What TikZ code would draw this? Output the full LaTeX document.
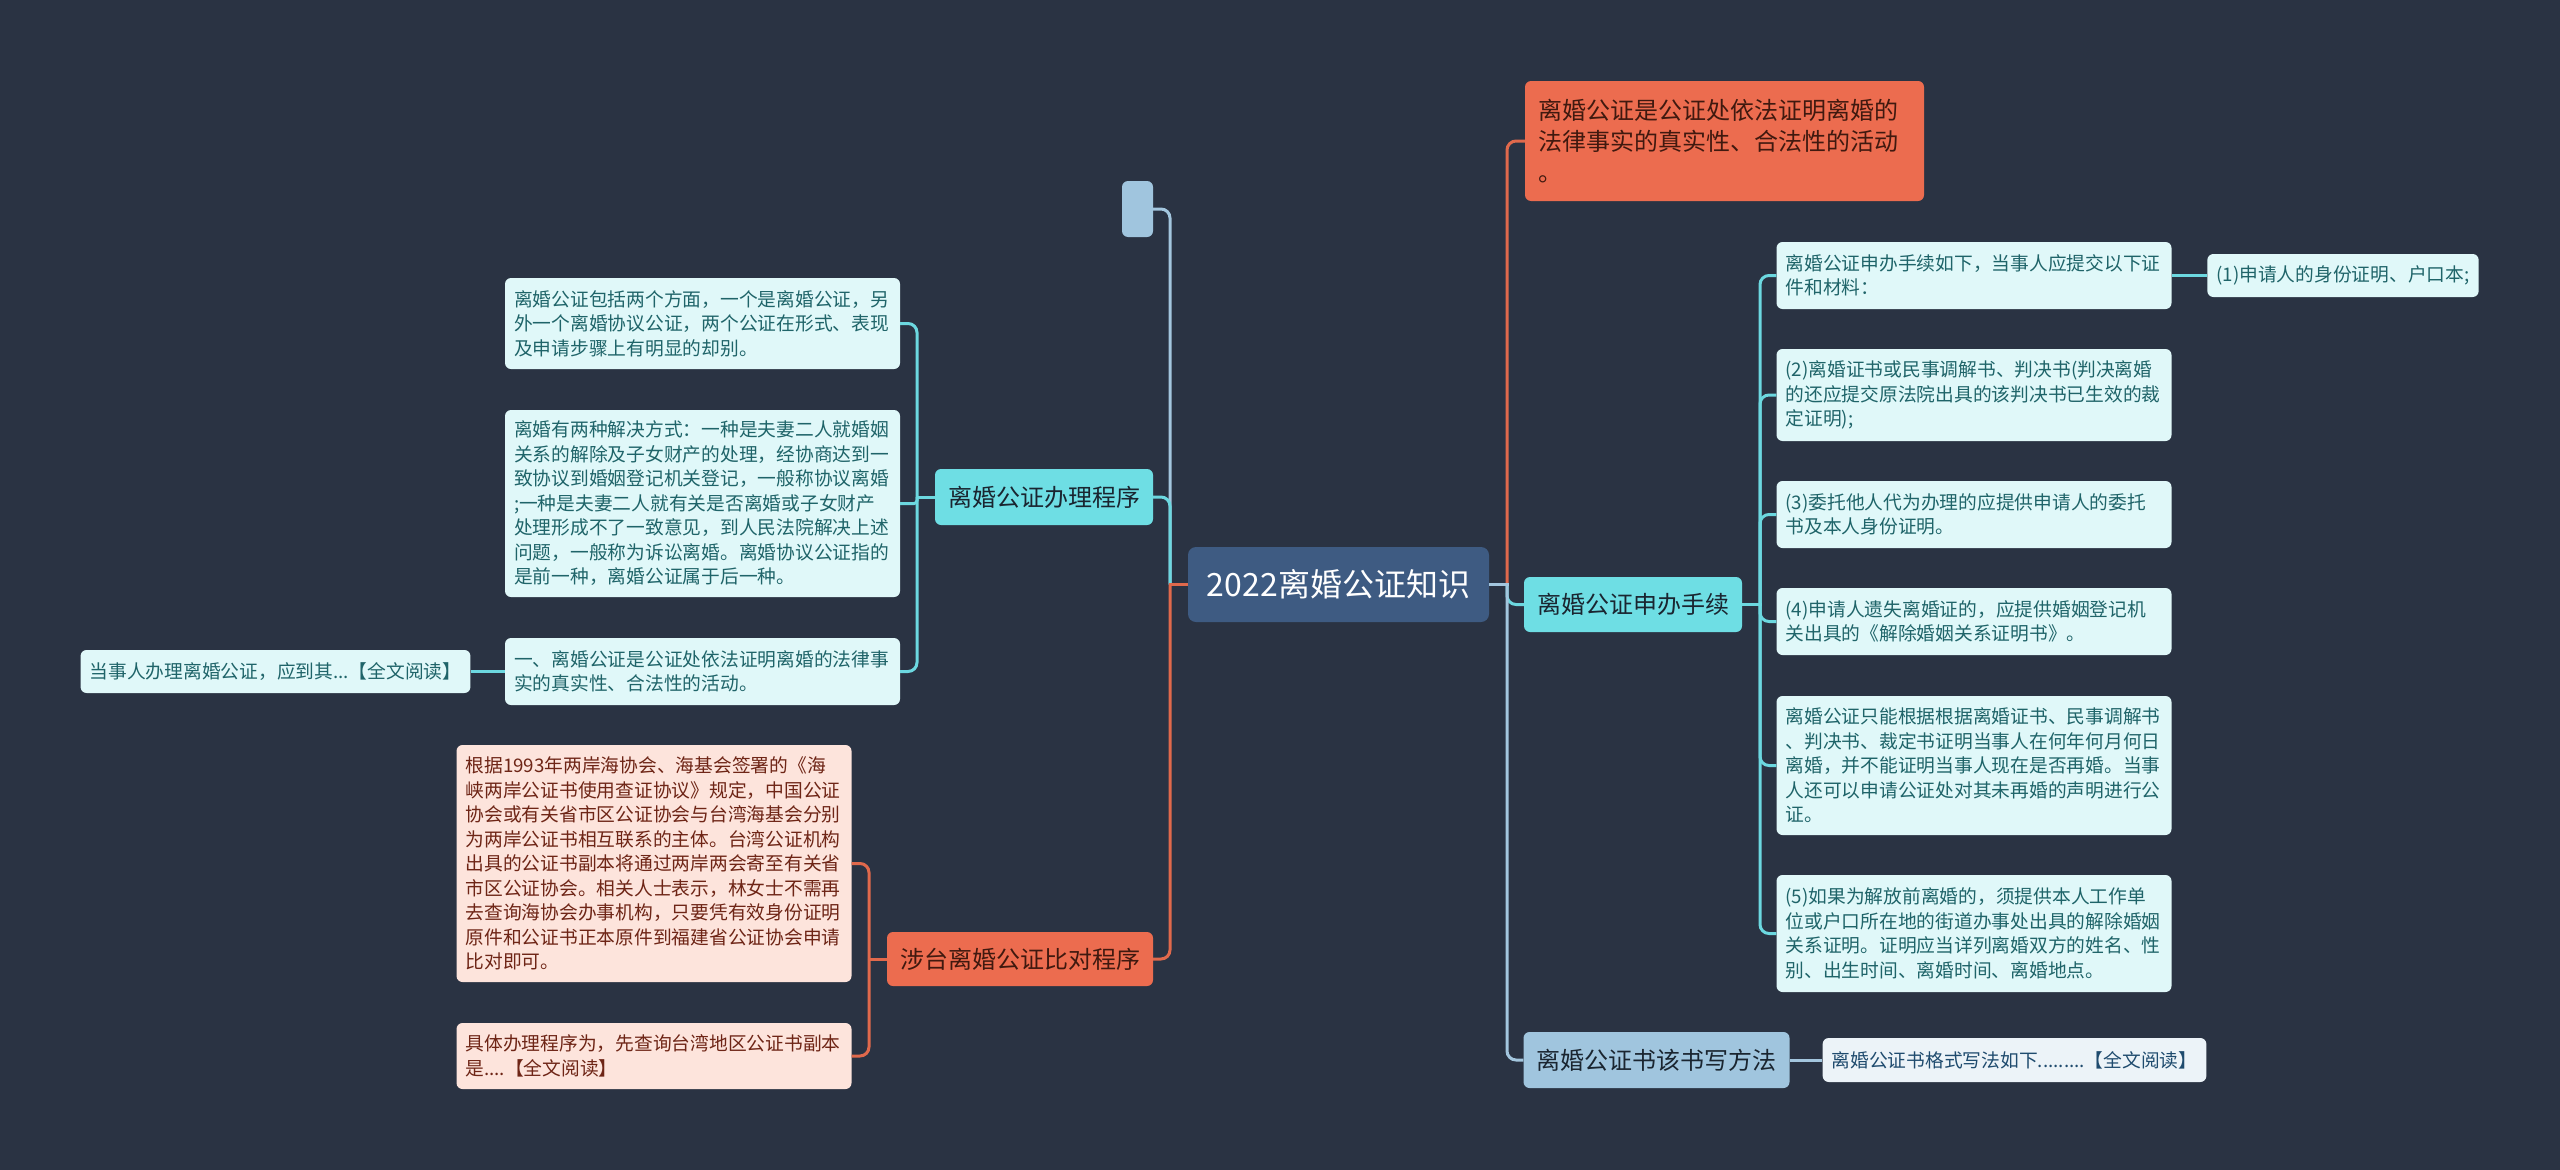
\documentclass[tikz,border=0pt]{standalone}
\usepackage{fontspec}
\newfontfamily\cjk{Noto Sans CJK SC}
\definecolor{bgnavy}{HTML}{2A3343}
\definecolor{rootblue}{HTML}{3E5B82}
\definecolor{topictext}{HTML}{1A2530}
\definecolor{cyantopic}{HTML}{6EDEE4}
\definecolor{cyanleaf}{HTML}{E0F8F9}
\definecolor{cyantext}{HTML}{1F6469}
\definecolor{cyanline}{HTML}{6CD8E0}
\definecolor{redtopic}{HTML}{EC6C4F}
\definecolor{redtopictext}{HTML}{40190F}
\definecolor{redleaf}{HTML}{FDE4DC}
\definecolor{redtext}{HTML}{6E2516}
\definecolor{redline}{HTML}{E0694C}
\definecolor{bluetopic}{HTML}{A0C5DE}
\definecolor{blueleaf}{HTML}{ECF3F8}
\definecolor{bluetext}{HTML}{1F4B6E}
\definecolor{blueline}{HTML}{A3C6DE}

\begin{document}
\begin{tikzpicture}[x=1pt, y=-1pt,
	every node/.style={inner sep=0pt, rounded corners=6pt},
	topic/.style={font=\cjk\fontsize{24}{31}\selectfont, text=topictext, minimum height=56pt, inner xsep=13pt},
	leaf/.style={font=\cjk\fontsize{18.75}{24.5}\selectfont, text width=377pt, align=left, inner xsep=9pt},
	tip/.style={font=\cjk\fontsize{18.75}{24.5}\selectfont, minimum height=43pt, inner xsep=9pt},
	link/.style={line width=3pt, rounded corners=9pt}]
	\useasboundingbox (0,0) rectangle (2560,1170);
	\fill[bgnavy] (0,0) rectangle (2560,1170);

	% centre
	\node[fill=rootblue, text=white, font=\cjk\fontsize{32}{38}\selectfont, minimum width=301pt, minimum height=75pt, rounded corners=8pt] (root) at (1338.5,584.5) {2022离婚公证知识};

	% left side
	\node[topic, fill=bluetopic, minimum width=31pt, inner xsep=0pt] (blank) at (1137.5,209) {};
	\node[topic, fill=cyantopic] (procL) at (1044,497) {离婚公证办理程序};
	\node[topic, fill=redtopic, text=redtopictext, minimum height=54pt] (taiwan) at (1020,959) {涉台离婚公证比对程序};

	\node[leaf, fill=cyanleaf, text=cyantext, minimum height=91pt] (l1) at (702.5,323.5) {离婚公证包括两个方面，一个是离婚公证，另\\外一个离婚协议公证，两个公证在形式、表现\\及申请步骤上有明显的却别。};
	\node[leaf, fill=cyanleaf, text=cyantext, minimum height=187pt] (l2) at (702.5,503.5) {离婚有两种解决方式：一种是夫妻二人就婚姻\\关系的解除及子女财产的处理，经协商达到一\\致协议到婚姻登记机关登记，一般称协议离婚\\;一种是夫妻二人就有关是否离婚或子女财产\\处理形成不了一致意见，到人民法院解决上述\\问题，一般称为诉讼离婚。离婚协议公证指的\\是前一种，离婚公证属于后一种。};
	\node[leaf, fill=cyanleaf, text=cyantext, minimum height=67pt] (l3) at (702.5,671.5) {一、离婚公证是公证处依法证明离婚的法律事\\实的真实性、合法性的活动。};
	\node[tip, fill=cyanleaf, text=cyantext] (l4) at (275.5,671.5) {当事人办理离婚公证，应到其...【全文阅读】};

	\node[leaf, fill=redleaf, text=redtext, minimum height=237pt] (t1) at (654,863.5) {根据1993年两岸海协会、海基会签署的《海\\峡两岸公证书使用查证协议》规定，中国公证\\协会或有关省市区公证协会与台湾海基会分别\\为两岸公证书相互联系的主体。台湾公证机构\\出具的公证书副本将通过两岸两会寄至有关省\\市区公证协会。相关人士表示，林女士不需再\\去查询海协会办事机构，只要凭有效身份证明\\原件和公证书正本原件到福建省公证协会申请\\比对即可。};
	\node[leaf, fill=redleaf, text=redtext, minimum height=66pt] (t2) at (654,1056) {具体办理程序为，先查询台湾地区公证书副本\\是....【全文阅读】};

	% right side
	\node[fill=redtopic, text=redtopictext, font=\cjk\fontsize{24}{31}\selectfont, text width=373pt, align=left, inner xsep=13pt, minimum height=120pt] (defn) at (1724.5,141) {离婚公证是公证处依法证明离婚的\\法律事实的真实性、合法性的活动\\。};
	\node[topic, fill=cyantopic, minimum height=55pt] (apply) at (1633,604.5) {离婚公证申办手续};
	\node[topic, fill=bluetopic] (write) at (1656.5,1060) {离婚公证书该书写方法};

	\node[leaf, fill=cyanleaf, text=cyantext, minimum height=67pt] (r1) at (1974,275.5) {离婚公证申办手续如下，当事人应提交以下证\\件和材料：};
	\node[tip, fill=cyanleaf, text=cyantext] (r1a) at (2343,275.5) {(1)申请人的身份证明、户口本;};
	\node[leaf, fill=cyanleaf, text=cyantext, minimum height=92pt] (r2) at (1974,395) {(2)离婚证书或民事调解书、判决书(判决离婚\\的还应提交原法院出具的该判决书已生效的裁\\定证明);};
	\node[leaf, fill=cyanleaf, text=cyantext, minimum height=67pt] (r3) at (1974,514.5) {(3)委托他人代为办理的应提供申请人的委托\\书及本人身份证明。};
	\node[leaf, fill=cyanleaf, text=cyantext, minimum height=67pt] (r4) at (1974,621.5) {(4)申请人遗失离婚证的，应提供婚姻登记机\\关出具的《解除婚姻关系证明书》。};
	\node[leaf, fill=cyanleaf, text=cyantext, minimum height=139pt] (r5) at (1974,765.5) {离婚公证只能根据根据离婚证书、民事调解书\\、判决书、裁定书证明当事人在何年何月何日\\离婚，并不能证明当事人现在是否再婚。当事\\人还可以申请公证处对其未再婚的声明进行公\\证。};
	\node[leaf, fill=cyanleaf, text=cyantext, minimum height=117pt] (r6) at (1974,933.5) {(5)如果为解放前离婚的，须提供本人工作单\\位或户口所在地的街道办事处出具的解除婚姻\\关系证明。证明应当详列离婚双方的姓名、性\\别、出生时间、离婚时间、离婚地点。};
	\node[tip, fill=blueleaf, text=bluetext, minimum height=44pt] (b1) at (2014.5,1060) {离婚公证书格式写法如下.........【全文阅读】};

	% connectors
	\coordinate (lj) at (1170,584.5);
	\coordinate (rj) at (1507,584.5);
	\draw[link, blueline] (lj) |- (blank.east);
	\draw[link, cyanline] (lj) |- (procL.east);
	\draw[link, redline] (lj) |- (taiwan.east);
	\draw[line width=3pt, redline] (root.west) -- ([xshift=-1.5pt]lj);
	\draw[link, redline] (rj) |- (defn.west);
	\draw[link, cyanline] (rj) |- (apply.west);
	\draw[link, blueline] (rj) |- (write.west);
	\draw[line width=3pt, blueline] (root.east) -- ([xshift=1.5pt]rj);

	\coordinate (pj) at (917,497);
	\draw[link, cyanline] (procL.west) -- ([xshift=-1.5pt]pj);
	\draw[link, cyanline] (pj) |- (l1.east);
	\draw[link, cyanline, rounded corners=3pt] (pj) |- (l2.east);
	\draw[link, cyanline] (pj) |- (l3.east);
	\draw[line width=3pt, cyanline] (l3.west) -- (l4.east);

	\coordinate (tj) at (869,959);
	\draw[line width=3pt, redline] (taiwan.west) -- ([xshift=-1.5pt]tj);
	\draw[link, redline] (tj) |- (t1.east);
	\draw[link, redline] (tj) |- (t2.east);

	\coordinate (aj) at (1760,604.5);
	\draw[line width=3pt, cyanline] (apply.east) -- ([xshift=1.5pt]aj);
	\foreach \leafname in {r1,r2,r3,r4,r5,r6}
		\draw[link, cyanline] (aj) |- (\leafname.west);
	\draw[line width=3pt, cyanline] (r1.east) -- (r1a.west);
	\draw[line width=3pt, blueline] (write.east) -- (b1.west);
\end{tikzpicture}
\end{document}
